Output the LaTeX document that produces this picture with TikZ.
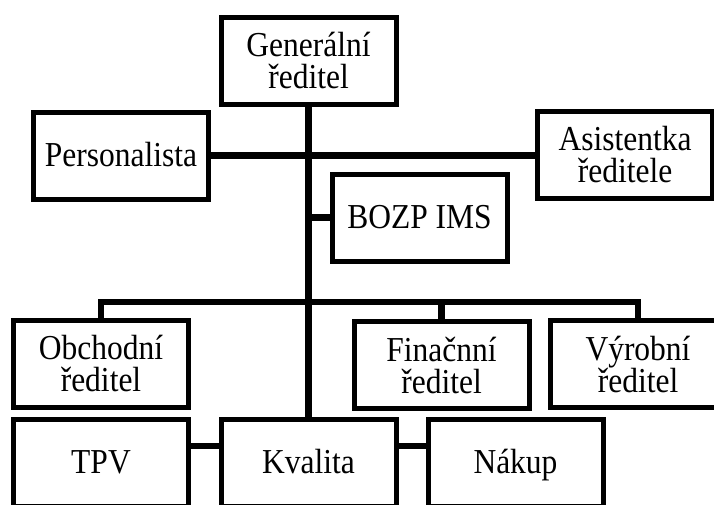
\documentclass[tikz,border=0pt]{standalone}
\usepackage{fontspec}
\setmainfont{Liberation Serif}[FakeStretch=0.9]
\usetikzlibrary{positioning}
\begin{document}
\begin{tikzpicture}[
				x=1pt, y=-1pt,
				box node/.style={rectangle,draw,line width=5pt,minimum width=175pt,minimum height=87pt,inner sep=0pt,align=center,font=\fontsize{35}{32}\selectfont},
				one line/.style={box node,text height=21pt,text depth=0pt},
				link/.style={line width=6.5pt}
				]
		  		\clip (0,0) rectangle (714,504);
		  		\node[box node] (gen) at (308.5,60.5) {Generální\\ředitel};
		  		\node[one line] (pers) at (121,155.5) {Personalista};
		  		\node[box node] (asis) at (625,155) {Asistentka\\ředitele};
		  		\node[one line] (bozp) at (419.5,217.5) {BOZP IMS};
		  		\node[box node] (obch) at (101,363.5) {Obchodní\\ředitel};
		  		\node[box node] (fin) at (441.5,365) {Finačnní\\ředitel};
		  		\node[box node] (vyr) at (638,364) {Výrobní\\ředitel};
		  		\node[one line] (tpv) at (101,463) {TPV};
		  		\node[one line] (kval) at (308.5,463) {Kvalita};
		  		\node[one line] (nak) at (515.5,463) {Nákup};
		  		\coordinate (bus) at (308.5,302);
				\draw[link] (gen.south) -- (kval.north);
				\draw[link] (pers.east) -- (pers.east -| asis.west);
				\draw[link] (bozp.west -| gen.south) -- (bozp.west);
				\draw[link] (obch.north) |- (bus) -| (vyr.north);
				\draw[link] (fin.north) -- (fin.north |- bus);
				\draw[link] ([yshift=17pt]tpv.east) -- ([yshift=17pt]kval.west);
				\draw[link] ([yshift=17pt]kval.east) -- ([yshift=17pt]nak.west);
		\end{tikzpicture}
\end{document}
